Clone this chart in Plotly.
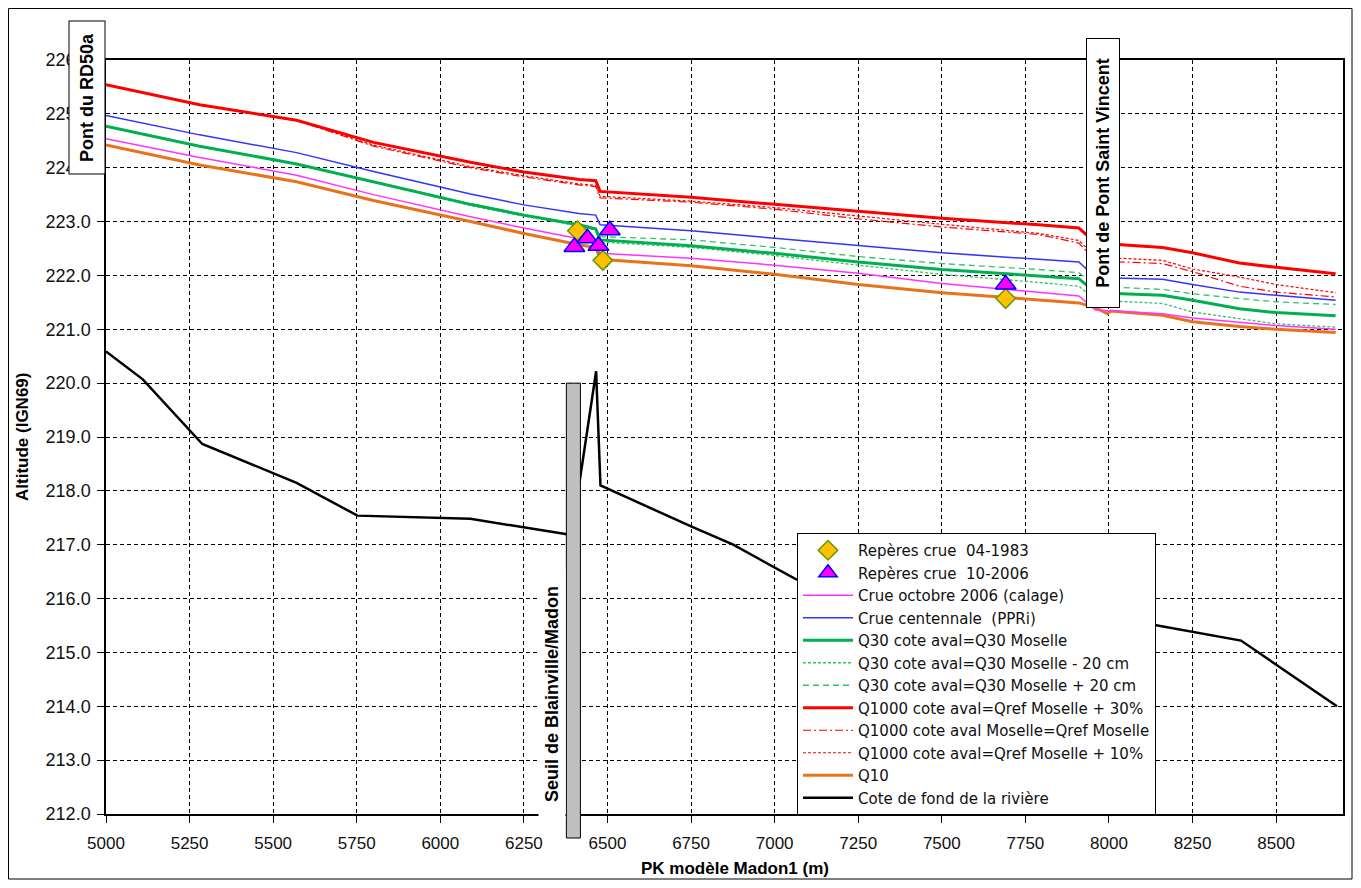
import plotly.graph_objects as go

# ---------------- data ----------------
pk = [5000, 5280, 5570, 5800, 6090, 6250, 6415, 6465, 6478, 6750, 7000, 7250,
      7500, 7790, 7910, 7960, 8160, 8250, 8390, 8500, 8678]

crue_2006 = [224.54, 224.19, 223.86, 223.50, 223.09, 222.88, 222.68, 222.62, 222.41, 222.32, 222.19, 222.04,
             221.85, 221.68, 221.62, 221.36, 221.29, 221.21, 221.13, 221.07, 221.00]
crue_centennale = [224.97, 224.61, 224.28, 223.93, 223.51, 223.31, 223.15, 223.12, 222.94, 222.83, 222.69, 222.55,
                   222.42, 222.30, 222.25, 221.96, 221.93, 221.83, 221.69, 221.63, 221.54]
q30 = [224.77, 224.40, 224.07, 223.74, 223.32, 223.12, 222.94, 222.86, 222.66, 222.55, 222.41, 222.25,
       222.11, 221.99, 221.94, 221.68, 221.63, 221.54, 221.38, 221.31, 221.25]
q30_moins20 = [224.77, 224.40, 224.07, 223.73, 223.30, 223.10, 222.92, 222.84, 222.62, 222.52, 222.37, 222.19,
               222.02, 221.87, 221.80, 221.54, 221.48, 221.32, 221.20, 221.10, 221.04]
q30_plus20 = [224.77, 224.40, 224.07, 223.75, 223.33, 223.13, 222.95, 222.88, 222.72, 222.66, 222.52, 222.35,
              222.22, 222.11, 222.05, 221.80, 221.74, 221.66, 221.57, 221.51, 221.46]
q1000_plus30 = [225.54, 225.17, 224.88, 224.47, 224.10, 223.92, 223.78, 223.76, 223.56, 223.45, 223.32, 223.19,
                223.06, 222.94, 222.88, 222.60, 222.52, 222.42, 222.23, 222.15, 222.03]
q1000_qref = [225.54, 225.17, 224.88, 224.40, 224.00, 223.83, 223.68, 223.65, 223.44, 223.36, 223.23, 223.05,
              222.90, 222.76, 222.60, 222.27, 222.22, 222.07, 221.80, 221.69, 221.60]
q1000_plus10 = [225.54, 225.17, 224.88, 224.42, 224.02, 223.85, 223.70, 223.67, 223.47, 223.38, 223.26, 223.10,
                222.95, 222.78, 222.65, 222.34, 222.28, 222.12, 221.97, 221.83, 221.68]

pk_q10 = [5000, 5280, 5570, 5800, 6090, 6250, 6415, 6465, 6478, 6750, 7000, 7250,
          7500, 7790, 7910, 7960, 7995, 8005, 8160, 8250, 8390, 8500, 8678]
q10 = [224.42, 224.05, 223.74, 223.39, 223.00, 222.78, 222.57, 222.52, 222.30, 222.18, 222.02, 221.83,
       221.68, 221.54, 221.49, 221.40, 221.29, 221.34, 221.26, 221.14, 221.05, 221.00, 220.94]

pk_fond = [5000, 5110, 5288, 5570, 5752, 6090, 6374, 6392, 6466, 6479, 6750, 6876, 7063,
           7300, 7750, 8100, 8395, 8682]
fond = [220.59, 220.07, 218.87, 218.15, 217.54, 217.48, 217.20, 217.15, 220.22, 218.10, 217.34, 217.00, 216.36,
        215.95, 215.75, 215.55, 215.22, 214.00]

pk_rep1983 = [6410, 6486, 7691]
rep1983 = [222.83, 222.28, 221.57]
pk_rep2006 = [6401, 6440, 6473, 6507, 7691]
rep2006 = [222.53, 222.69, 222.55, 222.84, 221.83]

seuil_pk = [6377, 6419]
seuil_top = 220.0

x_range = [5000, 8700]
y_range = [212, 226]
x_ticks = [5000, 5250, 5500, 5750, 6000, 6250, 6500, 6750, 7000, 7250, 7500, 7750, 8000, 8250, 8500]
y_ticks = [212, 213, 214, 215, 216, 217, 218, 219, 220, 221, 222, 223, 224, 225, 226]

FONT = "Liberation Sans, Arial, sans-serif"
LEGEND_FONT = "DejaVu Sans, Liberation Sans, sans-serif"

fig = go.Figure()

def line(x, y, name, color, width, dash="solid", rank=0):
    fig.add_trace(go.Scatter(x=x, y=y, mode="lines", name=name, legendrank=rank,
                             line=dict(color=color, width=width, dash=dash)))

line(pk_fond, fond, "Cote de fond de la rivière", "#000000", 2.5, rank=12)
line(pk_q10, q10, "Q10", "#E8731A", 3, rank=11)
line(pk, q1000_plus10, "Q1000 cote aval=Qref Moselle + 10%", "#FF0000", 1.2, "3px,2px", rank=10)
line(pk, q1000_qref, "Q1000 cote aval Moselle=Qref Moselle", "#FF0000", 1.2, "8px,3px,2px,3px", rank=9)
line(pk, q30_plus20, "Q30 cote aval=Q30 Moselle + 20 cm", "#33C26A", 1.3, "6px,4px", rank=7)
line(pk, q30_moins20, "Q30 cote aval=Q30 Moselle - 20 cm", "#33C26A", 1.3, "3px,2px", rank=6)
line(pk, q30, "Q30 cote aval=Q30 Moselle", "#00B050", 3, rank=5)
line(pk, crue_centennale, "Crue centennale  (PPRi)", "#3333FF", 1.5, rank=4)
line(pk, crue_2006, "Crue octobre 2006 (calage)", "#FF33FF", 1.5, rank=3)
line(pk, q1000_plus30, "Q1000 cote aval=Qref Moselle + 30%", "#FF0000", 3, rank=8)

fig.add_trace(go.Scatter(x=pk_rep1983, y=rep1983, mode="markers", name="Repères crue  04-1983",
                         legendrank=1,
                         marker=dict(symbol="diamond", size=15, color="#FFC000",
                                     line=dict(color="#669900", width=1.5))))
fig.add_trace(go.Scatter(x=pk_rep2006, y=rep2006, mode="markers", name="Repères crue  10-2006",
                         legendrank=2,
                         marker=dict(symbol="triangle-up", size=18, color="#FF00FF",
                                     line=dict(color="#0000FF", width=1.5))))

# page body has an 8px margin: work in window pixels, convert to figure
OFF = 8
W, H = 1361 - 2 * OFF, 888 - 2 * OFF
PL, PR, PT, PB = 106, 1343, 60, 814          # plot area in window pixels
L, T = PL - OFF, PT - OFF
R, B = W - (PR - OFF), H - (PB - OFF)
pw, ph = PR - PL, PB - PT

def px(xw):
    return (xw - PL) / pw

def py(yw):
    return (PB - yw) / ph

shapes = []
# Seuil bar (extends below the x axis)
shapes.append(dict(type="rect", xref="x", yref="paper",
                   x0=seuil_pk[0], x1=seuil_pk[1],
                   y0=py(838), y1=(seuil_top - y_range[0]) / (y_range[1] - y_range[0]),
                   fillcolor="#C0C0C0", line=dict(color="#000000", width=1), layer="above"))
# outer chart border
shapes.append(dict(type="rect", xref="paper", yref="paper",
                   x0=px(8.5), x1=px(1352), y0=py(879), y1=py(8.5),
                   line=dict(color="#000000", width=1), fillcolor="rgba(0,0,0,0)", layer="above"))

annotations = [
    dict(text="<b>Pont du RD50a</b>", xref="paper", yref="paper", x=px(87), y=py(97.5),
         xanchor="center", yanchor="middle", textangle=-90, showarrow=False,
         font=dict(family=FONT, size=18, color="#000"), bgcolor="#FFFFFF",
         bordercolor="#000000", borderwidth=1, width=150, height=33),
    dict(text="<b>Pont de Pont Saint Vincent</b>", xref="paper", yref="paper", x=px(1102.5), y=py(173.5),
         xanchor="center", yanchor="middle", textangle=-90, showarrow=False,
         font=dict(family=FONT, size=18, color="#000"), bgcolor="#FFFFFF",
         bordercolor="#000000", borderwidth=1, width=266, height=30),
    dict(text="<b>Seuil de Blainville/Madon</b>", xref="paper", yref="paper", x=px(552), y=py(694),
         xanchor="center", yanchor="middle", textangle=-90, showarrow=False,
         font=dict(family=FONT, size=18, color="#000"), bgcolor="#FFFFFF",
         width=246, height=24),
    dict(text="<b>Altitude (IGN69)</b>", xref="paper", yref="paper", x=px(22), y=py(437),
         xanchor="center", yanchor="middle", textangle=-90, showarrow=False,
         font=dict(family=FONT, size=17, color="#000")),
    dict(text="<b>PK modèle Madon1 (m)</b>", xref="paper", yref="paper", x=px(735), y=py(868),
         xanchor="center", yanchor="middle", showarrow=False,
         font=dict(family=FONT, size=17, color="#000")),
]

fig.update_layout(
    width=W, height=H,
    margin=dict(l=L, r=R, t=T, b=B),
    paper_bgcolor="#FFFFFF", plot_bgcolor="#FFFFFF",
    font=dict(family=FONT, size=17, color="#111"),
    shapes=shapes, annotations=annotations,
    showlegend=True,
    legend=dict(x=px(797), y=py(533), xanchor="left", yanchor="top",
                bgcolor="#FFFFFF", bordercolor="#000000", borderwidth=1,
                font=dict(family=LEGEND_FONT, size=15, color="#111"), tracegroupgap=0,
                traceorder="normal", itemwidth=50),
)
fig.update_xaxes(range=x_range, tickvals=x_ticks, ticktext=[str(v) for v in x_ticks],
                 showgrid=True, gridcolor="#000000", gridwidth=1, griddash="4px,3px",
                 showline=True, linecolor="#000000", linewidth=1.5, mirror=True,
                 ticks="outside", ticklen=7, tickcolor="#000000", zeroline=False,
                 ticklabelstandoff=6, automargin=False,
                 tickfont=dict(family=FONT, size=17, color="#111"))
fig.update_yaxes(range=y_range, tickvals=y_ticks, ticktext=[f"{v:.1f}" for v in y_ticks],
                 showgrid=True, gridcolor="#000000", gridwidth=1, griddash="4px,3px",
                 showline=True, linecolor="#000000", linewidth=1.5, mirror=True,
                 ticks="outside", ticklen=7, tickcolor="#000000", zeroline=False,
                 automargin=False, ticklabelstandoff=3,
                 tickfont=dict(family=FONT, size=18, color="#111"))

fig.write_html("out.html")
